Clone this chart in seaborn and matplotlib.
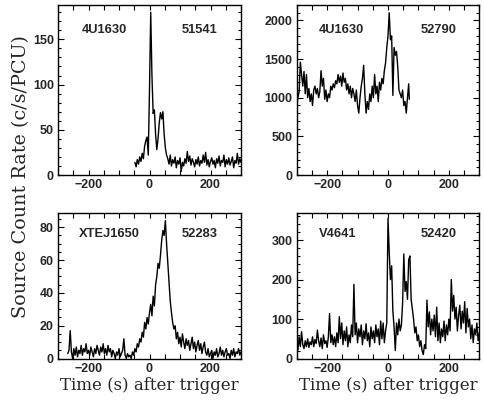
import numpy as np
import pandas as pd
import matplotlib
matplotlib.use("Agg")
import matplotlib.pyplot as plt
from matplotlib.ticker import MultipleLocator
import seaborn as sns

# ---------------- data ----------------
# Panel 1: 4U1630, MJD 51541
t1 = [-48, -44, -40, -36, -32, -28, -24, -20, -16, -12, -8, -4, 0, 4, 8, 12, 16, 20, 24, 28,
      32, 36, 40, 44, 48, 52, 56,
      60, 64, 68, 72, 76, 80, 84, 88, 92, 96, 100, 104, 108, 112, 116, 120, 124, 128, 132, 136,
      140, 144, 148, 152, 156, 160, 164, 168, 172, 176, 180, 184, 188, 192, 196, 200, 204, 208,
      212, 216, 220, 224, 228, 232, 236, 240, 244, 248, 252, 256, 260, 264, 268, 272, 276, 280,
      284, 288, 292, 296, 300]
r1 = [14, 9, 17, 12, 20, 15, 24, 18, 32, 38, 42, 22, 95, 180, 110, 68, 72, 45, 28, 40,
      58, 69, 62, 70, 45, 30, 22,
      18, 12, 22, 10, 17, 13, 20, 8, 16, 12, 19, 4, 14, 10, 18, 13, 26, 15, 21, 11,
      18, 14, 9, 17, 12, 20, 10, 16, 13, 22, 14, 25, 11, 17, 9, 15, 19, 12,
      16, 8, 18, 13, 21, 10, 16, 14, 22, 9, 17, 12, 19, 11, 15, 20, 8, 16,
      13, 24, 12, 18, 14]

# Panel 2: 4U1630, MJD 52790
t2 = [-300, -296, -292, -288, -284, -280, -276, -272, -268, -264, -260, -256, -252, -248, -244,
      -240, -236, -232, -228, -224, -220, -216, -212, -208, -204, -200, -196, -192, -188, -184,
      -180, -176, -172, -168, -164, -160, -156, -152, -148, -144, -140, -136, -132, -128, -124,
      -120, -116, -112, -108, -104, -100, -96, -92, -88, -84, -80, -76, -72, -68, -64, -60, -56,
      -52, -48, -44, -40, -36, -32, -28, -24, -20, -16, -12, -8, -4, 0, 4, 8, 12, 16, 20, 24,
      28, 32, 36, 40, 44, 48, 52, 56, 60, 64, 68, 70]
r2 = [880, 1000, 1080, 1460, 1300, 1150, 1340, 1050, 1300, 1000, 1120, 950, 1050, 900, 1100,
      1150, 1050, 1120, 1000, 1080, 1350, 1150, 1250, 980, 1100, 950, 1050, 1000, 1150, 1100,
      1180, 1130, 1220, 1180, 1300, 1200, 1280, 1150, 1320, 1200, 1250, 1100, 1180, 1050, 1150,
      1000, 1120, 1050, 950, 1100, 900, 800, 1000, 1150, 1250, 1420, 1050, 800, 950, 850, 1050, 950,
      1150, 1000, 1300, 1050, 1150, 950, 1200, 1100, 1250, 1180, 1350, 1450, 1650, 1800, 2100, 1750, 1800, 1030, 1650, 1550,
      1600, 1400, 1100, 1050, 1000, 1100, 900, 950, 800, 1000, 1180, 980]

# Panel 3: XTEJ1650, MJD 52283
t3 = list(range(-268, 301, 4))
r3 = [3, 5, 17, 4, 0, 6, 2, 7, 1, 5, 3, 8, 2, 6, 4, 9, 3, 5, 2, 7, 4, 1, 6, 3, 8, 5, 2, 7, 4, 9,
      3, 6, 2, 8, 4, 6, 1, 5, 3, 0, 4, 2, 6, 1, 3, 5, 12, 2, 0, 3, 1, 2, 0, 4, 2, 6, 4, 9, 7, 12,
      10, 16, 13, 22, 18, 25, 21, 28, 33, 26, 38, 32, 45, 50, 58, 55, 63, 72, 78, 75, 84, 70, 58, 45,
      35, 28, 22, 18, 20, 12, 16, 9, 13, 7, 15, 10, 6, 12, 8, 11, 5, 9, 13, 6, 10, 4, 8, 11, 5, 9,
      3, 7, 10, 4, 2, 6, 1, 3, 5, 0, 4, 2, 6, 1, 3, 7, 2, 5, 1, 4, 6, 2, 3, 0, 5, 2, 6, 1, 4, 3, 6, 2, 4]

# Panel 4: V4641, MJD 52420
t4 = list(range(-300, 301, 4))
r4 = [40, 22, 55, 30, 68, 35, 25, 45, 30, 50, 28, 42, 35, 55, 30, 48, 38, 72, 45, 30, 52, 25, 60,
      38, 45, 28, 55, 114, 40, 60, 35, 55, 30, 65, 40, 106, 50, 90, 35, 70, 45, 80, 30, 60, 40, 85,
      55, 188, 60, 90, 40, 75, 55, 85, 35, 70, 50, 88, 45, 65, 30, 80, 50, 70, 40, 85, 55, 75, 35,
      95, 50, 90, 40, 70, 90, 355, 270, 200, 235, 120, 80, 20, 90, 60, 100, 70, 85, 140, 265, 170,
      195, 150, 250, 260, 150, 125, 100, 65, 80, 45, 60, 30, 45, 20, 10, 35, 25, 148, 80, 118, 60,
      100, 70, 110, 55, 130, 45, 90, 40, 75, 55, 95, 45, 85, 60, 100, 70, 200, 120, 160, 100, 130,
      70, 110, 135, 75, 120, 90, 144, 65, 127, 80, 100, 50, 85, 40, 75, 60, 90, 45, 65]

sources = ["4U1630", "4U1630", "XTEJ1650", "V4641"]
mjds = ["51541", "52790", "52283", "52420"]
ymax = [188, 2200, 88.5, 368]
ymajor = [50, 500, 20, 100]
yminor = [10, 100, 5, 20]
name_x = [0.254, 0.246, 0.279, 0.222]
series = [(t1, r1), (t2, r2), (t3, r3), (t4, r4)]

# ---------------- figure ----------------
sns.set_style("ticks")
plt.rcParams["font.family"] = ["Liberation Sans", "DejaVu Sans"]

fig = plt.figure(figsize=(4.84, 4.04), dpi=100)
W, H = 484.0, 404.0
boxes = [
    (58, 5, 241, 175),
    (296.7, 5, 479.3, 175),
    (58, 213.3, 241, 358.5),
    (296.7, 213.3, 479.3, 358.5),
]

for i, (x0, y0, x1, y1) in enumerate(boxes):
    ax = fig.add_axes([x0 / W, (H - y1) / H, (x1 - x0) / W, (y1 - y0) / H])
    t, r = series[i]
    df = pd.DataFrame({"t": t, "rate": r})
    sns.lineplot(data=df, x="t", y="rate", ax=ax, color="black", lw=1.0,
                 estimator=None, sort=False)
    ax.set_xlim(-300, 300)
    ax.set_ylim(0, ymax[i])
    ax.xaxis.set_major_locator(MultipleLocator(200))
    ax.xaxis.set_minor_locator(MultipleLocator(50))
    ax.yaxis.set_major_locator(MultipleLocator(ymajor[i]))
    ax.yaxis.set_minor_locator(MultipleLocator(yminor[i]))
    ax.tick_params(axis="both", which="both", direction="in", top=True, right=True,
                   width=0.8, color="black")
    ax.tick_params(axis="x", which="both", length=3.8)
    ax.tick_params(axis="y", which="major", length=4.5)
    ax.tick_params(axis="y", which="minor", length=2.3)
    ax.tick_params(axis="both", which="major", labelsize=9, pad=3)
    for lab in ax.get_xticklabels() + ax.get_yticklabels():
        lab.set_fontweight("bold")
    for sp in ax.spines.values():
        sp.set_linewidth(1.0)
        sp.set_color("black")
    ax.set_ylabel("")
    if i >= 2:
        ax.set_xlabel("Time (s) after trigger", family=["DejaVu Serif"], fontsize=12,
                      labelpad=2)
    else:
        ax.set_xlabel("")
    ax.text(name_x[i], 0.855, sources[i], transform=ax.transAxes, ha="center", va="center",
            fontsize=9.3, fontweight="bold")
    ax.text(0.775, 0.855, mjds[i], transform=ax.transAxes, ha="center", va="center",
            fontsize=9.3, fontweight="bold")

fig.text(21 / W, 1 - 177 / H, "Source Count Rate (c/s/PCU)", rotation=90, ha="center",
         va="center", family=["DejaVu Serif"], fontsize=13.8)

fig.savefig("out.png", dpi=100)
